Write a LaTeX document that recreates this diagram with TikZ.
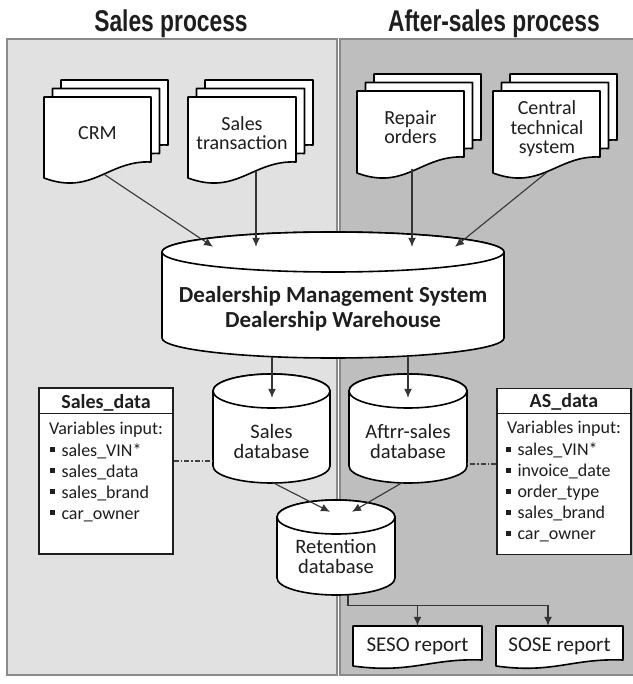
\documentclass[tikz,border=0pt]{standalone}
\usepackage{fontspec}
\setmainfont{Carlito}
\newfontfamily\headfont{Liberation Sans}[FakeStretch=0.76]
\usetikzlibrary{arrows.meta}

\definecolor{salesbg}{HTML}{E1E1E1}
\definecolor{afterbg}{HTML}{BEBEBE}
\definecolor{frame}{HTML}{8A8A8A}
\definecolor{ink}{HTML}{1E1E1E}

% one sheet with a wavy lower edge: left, top, right, bottom, wave
\newcommand\docpage[5]{%
  \filldraw[paper] ({#1},{#2}) -- ({#3},{#2}) -- ({#3},{(#4)-(#5)})
    .. controls ({(#3)-0.4*((#3)-(#1))},{(#4)-(#5)-2}) and ({(#1)+0.45*((#3)-(#1))},{(#4)+(#5)+2}) .. ({#1},{#4}) -- cycle;}
% three sheets stacked
\newcommand\docstack[4]{%
  \foreach \d in {17,8.5,0}
    \docpage{#1+\d}{#2-\d}{#3+\d}{#4-\d}{16};}
% database drum: cx, rx, ry, top, bottom
\newcommand\dbshape[5]{%
  \filldraw[paper] ({(#1)-(#2)},{#4}) -- ({(#1)-(#2)},{#5})
    arc[start angle=180,end angle=0,x radius=#2,y radius=#3]
    -- ({(#1)+(#2)},{#4}) arc[start angle=0,end angle=-180,x radius=#2,y radius=#3] -- cycle;
  \draw[paper] ({#1},{#4}) ellipse[x radius=#2,y radius=#3];}
\newcommand\sqmark{\rule[4pt]{5pt}{5pt}\hspace{7pt}}

\begin{document}
\begin{tikzpicture}[x=1pt,y=-1pt,
    paper/.style={fill=white,draw=black,line width=1.6pt,line join=round},
    title/.style={font=\headfont\bfseries\fontsize{30}{30}\selectfont,text=ink,anchor=base},
    doctext/.style={font=\fontsize{20}{19.5}\selectfont,text=ink,align=center,inner sep=0pt},
    dbtext/.style={font=\fontsize{20.5}{20}\selectfont,text=ink,align=center,inner sep=0pt},
    databox/.style={draw=ink,line width=1.4pt,fill=white,inner sep=0pt,minimum width=134,minimum height=166},
    boxhead/.style={font=\bfseries\fontsize{20}{20}\selectfont,text=ink,anchor=base},
    item/.style={font=\fontsize{18}{18}\selectfont,text=ink,inner sep=0pt},
    arr/.style={draw=ink!90,line width=1.1pt,-{Latex[length=9pt,width=8pt]}},
    link/.style={draw=ink!85,line width=1.1pt,dash pattern=on 5pt off 2pt on 1.5pt off 2pt}]
\useasboundingbox (0,0) rectangle (632,684);
\fill[white] (0,0) rectangle (632,684);

% the two process panels
\filldraw[fill=salesbg,draw=frame,line width=1.5pt] (7,39) rectangle (337,675);
\filldraw[fill=afterbg,draw=frame,line width=1.5pt] (340,39) rectangle (645,675);
\node[title] (salestitle) at (171,32) {Sales process};
\node[title] (aftertitle) at (494,32) {After-sales process};

% source documents
\docstack{44}{97}{151}{178}
\node[doctext,minimum width=107,minimum height=89] (crm) at (97.5,133.5) {CRM};
\docstack{188}{97}{296}{178}
\node[doctext,minimum width=108,minimum height=90] (strans) at (242,133) {Sales\\transaction};
\docstack{357}{91}{464}{173}
\node[doctext,minimum width=107,minimum height=92] (repair) at (410.5,127) {Repair\\orders};
\docstack{493}{91}{600}{173}
\node[doctext,minimum width=107,minimum height=88.6] (central) at (547,128.7) {Central\\technical\\system};

% databases
\dbshape{333}{171}{20}{252}{338}
\node[font=\bfseries\fontsize{23}{25}\selectfont,text=ink,align=center,inner sep=0pt,
      minimum width=342,minimum height=98] (dms) at (333,309)
  {Dealership Management System\\Dealership Warehouse};
\dbshape{271.5}{58.5}{17}{391}{466}
\node[dbtext,minimum width=117,minimum height=84] (sdb) at (271.5,441) {Sales\\database};
\dbshape{408}{59}{17}{391}{466}
\node[dbtext,minimum width=118,minimum height=84] (asdb) at (408,441) {Aftrr-sales\\database};
\dbshape{336}{59}{17}{517}{578}
\node[dbtext,minimum width=118,minimum height=78] (ret) at (336,556) {Retention\\database};

% variable boxes
\node[databox] (salesdata) at (106,471) {};
\draw[draw=ink,line width=1.2pt] ([yshift=-26]salesdata.north west) -- ([yshift=-26]salesdata.north east);
\node[boxhead] (salestag) at ([yshift=-21]salesdata.north) {Sales\_data};
\node[item,anchor=base] (salesvar) at ([yshift=-47]salesdata.north) {Variables input:};
\foreach \v [count=\i] in {sales\_VIN*,sales\_data,sales\_brand,car\_owner}
  \node[item,anchor=base west] (sitem\i) at ([xshift=11,yshift={-48-21*\i}]salesdata.north west) {\sqmark\v};

\node[databox] (asdata) at (564,471.5) {};
\draw[draw=ink,line width=1.2pt] ([yshift=-26]asdata.north west) -- ([yshift=-26]asdata.north east);
\node[boxhead] (astag) at ([yshift=-20]asdata.north) {AS\_data};
\node[item,anchor=base] (asvar) at ([yshift=-46]asdata.north) {Variables input:};
\foreach \v [count=\i] in {sales\_VIN*,invoice\_date,order\_type,sales\_brand,car\_owner}
  \node[item,anchor=base west] (aitem\i) at ([xshift=9,yshift={-47-21*\i}]asdata.north west) {\sqmark\v};

% reports
\docpage{353}{626}{482}{666}{6}
\node[font=\fontsize{21}{21}\selectfont,text=ink,inner sep=0pt,minimum width=129,minimum height=40] (seso) at (417.5,646) {SESO report};
\docpage{496}{626}{623}{666}{6}
\node[font=\fontsize{21}{21}\selectfont,text=ink,inner sep=0pt,minimum width=127,minimum height=40] (sose) at (559.5,646) {SOSE report};

% connectors
\draw[arr] ([xshift=6.5,yshift=4]crm.south) -- ([xshift=-120,yshift=13]dms.north);
\draw[arr] ([xshift=14,yshift=7.5]strans.south) -- ([xshift=-77,yshift=13]dms.north);
\draw[arr] ([xshift=1.5,yshift=4]repair.south) -- ([xshift=79,yshift=13]dms.north);
\draw[arr] ([yshift=1]central.south) -- ([xshift=122,yshift=13]dms.north);
\draw[arr] ([xshift=-61,yshift=1.5]dms.south) -- ([xshift=0.5,yshift=1]sdb.north);
\draw[arr] ([xshift=75,yshift=2]dms.south) -- ([yshift=1]asdb.north);
\draw[arr] ([xshift=0.5,yshift=1]sdb.south) -- ([xshift=-6,yshift=5]ret.north);
\draw[arr] ([xshift=-5,yshift=1]asdb.south) -- ([xshift=16,yshift=5]ret.north);
\draw[arr] ([xshift=12]ret.south) -- ++(0,10) -| ([xshift=-11.5]sose.north);
\draw[arr] ([xshift=12]ret.south) ++(0,10) -| (seso.north);
\draw[link] ([yshift=10]salesdata.east) -- ([yshift=10]salesdata.east -| sdb.west);
\draw[link] ([yshift=7.5]asdata.west) -- ([yshift=7.5]asdata.west -| asdb.east);
\end{tikzpicture}
\end{document}
